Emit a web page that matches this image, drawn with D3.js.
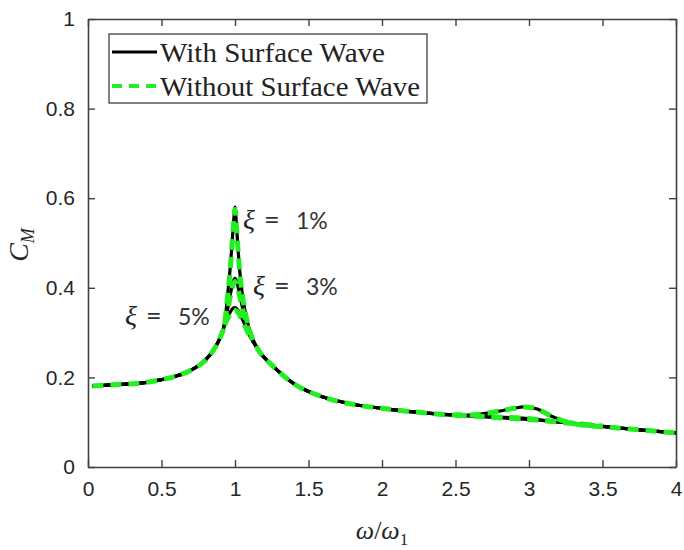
<!DOCTYPE html>
<html>
<head>
<meta charset="utf-8">
<script src="https://cdn.jsdelivr.net/npm/d3@7"></script>
<style>
  body { margin: 0; background: #fff; }
</style>
</head>
<body>
<svg id="chart" width="684" height="550"></svg>
<script>
// frequency ratio samples (denser near the peaks)
const omega = [0.03, 0.2, 0.4, 0.5, 0.6, 0.7, 0.8, 0.85, 0.9, 0.93, 0.95, 0.97, 0.98, 0.99, 1.0,
  1.01, 1.02, 1.03, 1.05, 1.07, 1.1, 1.17, 1.25, 1.4, 1.6, 1.8, 2.0, 2.25, 2.5, 2.6, 2.75,
  2.9, 2.96, 3.05, 3.15, 3.25, 3.35, 3.5, 3.75, 4.0];

// with surface wave
const withXi1 = [0.181, 0.184, 0.189, 0.195, 0.203, 0.216, 0.239, 0.259, 0.29, 0.322, 0.385, 0.455, 0.5, 0.545, 0.58,
  0.54, 0.49, 0.445, 0.385, 0.345, 0.305, 0.256, 0.228, 0.186, 0.156, 0.14, 0.131, 0.122, 0.116, 0.116, 0.122,
  0.131, 0.134, 0.13, 0.114, 0.101, 0.094, 0.09, 0.083, 0.076];
const withXi3 = [0.181, 0.184, 0.189, 0.195, 0.203, 0.216, 0.239, 0.259, 0.29, 0.32, 0.352, 0.388, 0.404, 0.416, 0.421,
  0.415, 0.403, 0.388, 0.357, 0.33, 0.298, 0.256, 0.228, 0.186, 0.156, 0.14, 0.131, 0.122, 0.116, 0.114, 0.112,
  0.11, 0.109, 0.106, 0.102, 0.099, 0.096, 0.091, 0.083, 0.076];
const withXi5 = [0.181, 0.184, 0.189, 0.195, 0.203, 0.216, 0.239, 0.259, 0.29, 0.318, 0.334, 0.347, 0.352, 0.355, 0.356,
  0.354, 0.35, 0.344, 0.33, 0.315, 0.293, 0.256, 0.228, 0.186, 0.156, 0.14, 0.131, 0.122, 0.116, 0.114, 0.111,
  0.108, 0.107, 0.105, 0.102, 0.099, 0.096, 0.091, 0.083, 0.076];

// without surface wave
const withoutXi1 = [0.181, 0.184, 0.189, 0.195, 0.203, 0.216, 0.239, 0.259, 0.29, 0.322, 0.383, 0.452, 0.497, 0.541, 0.575,
  0.536, 0.487, 0.443, 0.384, 0.344, 0.304, 0.256, 0.228, 0.186, 0.156, 0.14, 0.131, 0.122, 0.116, 0.116, 0.122,
  0.131, 0.134, 0.13, 0.114, 0.101, 0.094, 0.09, 0.083, 0.076];
const withoutXi3 = [0.181, 0.184, 0.189, 0.195, 0.203, 0.216, 0.239, 0.259, 0.29, 0.32, 0.35, 0.384, 0.399, 0.41, 0.414,
  0.409, 0.398, 0.384, 0.355, 0.329, 0.297, 0.256, 0.228, 0.186, 0.156, 0.14, 0.131, 0.122, 0.116, 0.114, 0.112,
  0.11, 0.109, 0.106, 0.102, 0.099, 0.096, 0.091, 0.083, 0.076];
const withoutXi5 = [0.181, 0.184, 0.189, 0.195, 0.203, 0.216, 0.239, 0.259, 0.29, 0.317, 0.331, 0.342, 0.346, 0.349, 0.35,
  0.348, 0.345, 0.34, 0.327, 0.313, 0.292, 0.256, 0.228, 0.186, 0.156, 0.14, 0.131, 0.122, 0.116, 0.114, 0.111,
  0.108, 0.107, 0.105, 0.102, 0.099, 0.096, 0.091, 0.083, 0.076];

const xTicks = [0, 0.5, 1, 1.5, 2, 2.5, 3, 3.5, 4];
const yTicks = [0, 0.2, 0.4, 0.6, 0.8, 1];
const dampingLabels = ["1%", "3%", "5%"];
const dampingLabelX = [1.054, 1.122, 0.252];
const dampingLabelY = [0.531, 0.384, 0.317];

const svg = d3.select("#chart");
const margin = { top: 19, right: 8, bottom: 83, left: 88 };
const width = 684 - margin.left - margin.right;
const height = 550 - margin.top - margin.bottom;
const axisColor = "#404040";
const green = "#22ee22";

const x = d3.scaleLinear().domain([0, 4]).range([margin.left, margin.left + width]);
const y = d3.scaleLinear().domain([0, 1]).range([margin.top + height, margin.top]);

const line = d3.line()
  .x(d => x(d[0]))
  .y(d => y(d[1]))
  .curve(d3.curveMonotoneX);

const zip = (vals, from = 0, to = omega.length - 1) =>
  omega.map((w, i) => [w, vals[i]]).slice(from, to + 1);

// solid black curves first
[withXi1, withXi3, withXi5].forEach(vals => {
  svg.append("path")
    .attr("d", line(zip(vals)))
    .attr("fill", "none")
    .attr("stroke", "#000")
    .attr("stroke-width", 3.2);
});

// green dashes on top; the shared stretches of the 3% / 5% curves sit under the 1% one,
// so those two are only stroked where they split off (peak and hump)
const dashed = (vals, from, to) => svg.append("path")
  .attr("d", line(zip(vals, from, to)))
  .attr("fill", "none")
  .attr("stroke", green)
  .attr("stroke-width", 5)
  .attr("stroke-dasharray", "11,7");
[withoutXi5, withoutXi3].forEach(vals => {
  dashed(vals, 9, 20);
  dashed(vals, 28, 37);
});
dashed(withoutXi1);

// axes box with inward ticks on all sides
const tickLen = 7;
svg.append("g")
  .attr("transform", `translate(0,${margin.top + height})`)
  .call(d3.axisBottom(x).tickValues(xTicks).tickSizeInner(-tickLen).tickSizeOuter(0).tickPadding(14).tickFormat(d3.format("")))
  .call(g => g.select(".domain").attr("stroke", axisColor).attr("stroke-width", 1.6))
  .call(g => g.selectAll(".tick line").attr("stroke", axisColor).attr("stroke-width", 1.4))
  .selectAll("text")
  .style("font-family", "'Liberation Sans', Arial, sans-serif")
  .style("font-size", "21px")
  .attr("fill", "#262626");

svg.append("g")
  .attr("transform", `translate(0,${margin.top})`)
  .call(d3.axisTop(x).tickValues(xTicks).tickSizeInner(-tickLen).tickSizeOuter(0).tickFormat(""))
  .call(g => g.select(".domain").attr("stroke", axisColor).attr("stroke-width", 1.6))
  .call(g => g.selectAll(".tick line").attr("stroke", axisColor).attr("stroke-width", 1.4));

svg.append("g")
  .attr("transform", `translate(${margin.left},0)`)
  .call(d3.axisLeft(y).tickValues(yTicks).tickSizeInner(-tickLen).tickSizeOuter(0).tickPadding(13).tickFormat(d3.format("")))
  .call(g => g.select(".domain").attr("stroke", axisColor).attr("stroke-width", 1.6))
  .call(g => g.selectAll(".tick line").attr("stroke", axisColor).attr("stroke-width", 1.4))
  .selectAll("text")
  .style("font-family", "'Liberation Sans', Arial, sans-serif")
  .style("font-size", "21px")
  .attr("fill", "#262626");

svg.append("g")
  .attr("transform", `translate(${margin.left + width},0)`)
  .call(d3.axisRight(y).tickValues(yTicks).tickSizeInner(-tickLen).tickSizeOuter(0).tickFormat(""))
  .call(g => g.select(".domain").attr("stroke", axisColor).attr("stroke-width", 1.6))
  .call(g => g.selectAll(".tick line").attr("stroke", axisColor).attr("stroke-width", 1.4));

// axis labels
const serif = "'Liberation Serif', 'Times New Roman', serif";
const xl = svg.append("text")
  .attr("x", x(2))
  .attr("y", 539)
  .attr("text-anchor", "middle")
  .style("font-family", serif)
  .style("font-size", "26px")
  .attr("fill", "#262626");
xl.append("tspan").style("font-style", "italic").text("ω");
xl.append("tspan").text("/");
xl.append("tspan").style("font-style", "italic").text("ω");
xl.append("tspan").attr("dy", 6).style("font-size", "17px").text("1");

const yl = svg.append("text")
  .attr("transform", `translate(28,${y(0.5) + 2}) rotate(-90)`)
  .attr("text-anchor", "middle")
  .style("font-family", serif)
  .style("font-size", "28px")
  .style("font-style", "italic")
  .attr("fill", "#262626");
yl.append("tspan").text("C");
yl.append("tspan").attr("dy", 6).style("font-size", "18px").text("M");

// damping annotations
const sans = "Lato, 'Open Sans', sans-serif";
dampingLabels.forEach((lab, i) => {
  const px = x(dampingLabelX[i]);
  const py = y(dampingLabelY[i]);
  svg.append("text")
    .attr("x", px).attr("y", py)
    .style("font-family", serif).style("font-style", "italic").style("font-size", "28px")
    .attr("fill", "#222")
    .text("ξ");
  svg.append("text")
    .attr("x", px + 21).attr("y", py)
    .style("font-family", sans).style("font-size", "27px")
    .attr("fill", "#333")
    .text("=");
  svg.append("text")
    .attr("x", px + 53).attr("y", py)
    .style("font-family", sans).style("font-size", "23px")
    .attr("fill", "#333")
    .text(lab);
});

// legend
const legend = svg.append("g");
legend.append("rect")
  .attr("x", 109).attr("y", 34)
  .attr("width", 318).attr("height", 69)
  .attr("fill", "#fff")
  .attr("stroke", axisColor)
  .attr("stroke-width", 1.3);
const legendLabels = ["With Surface Wave", "Without Surface Wave"];
const legendWidths = [225, 260];
legendLabels.forEach((lab, i) => {
  const cy = 52 + i * 34;
  legend.append("line")
    .attr("x1", 112).attr("x2", 157)
    .attr("y1", cy).attr("y2", cy)
    .attr("stroke", i === 0 ? "#000" : green)
    .attr("stroke-width", i === 0 ? 2.8 : 4)
    .attr("stroke-dasharray", i === 0 ? null : "10,7");
  legend.append("text")
    .attr("x", 160)
    .attr("y", cy + 10)
    .attr("textLength", legendWidths[i])
    .attr("lengthAdjust", "spacingAndGlyphs")
    .style("font-family", serif)
    .style("font-size", "28px")
    .attr("fill", "#222")
    .text(lab);
});
</script>
</body>
</html>
